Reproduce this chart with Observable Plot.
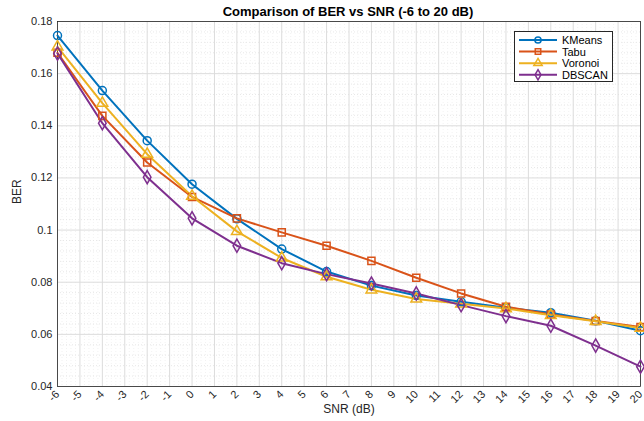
<!DOCTYPE html>
<html><head><meta charset="utf-8">
<script src="https://cdn.jsdelivr.net/npm/d3@7"></script>
<script src="https://cdn.jsdelivr.net/npm/@observablehq/plot@0.6"></script>
<style>
body{margin:0;background:#fff;font-family:"Liberation Sans",Arial,sans-serif;}
#wrap{position:relative;width:644px;height:421px;}
#title{position:absolute;left:0;width:644px;top:4px;padding-left:52px;box-sizing:border-box;text-align:center;font-weight:bold;font-size:13px;color:#000;}
#legend{position:absolute;left:514px;top:31px;width:99px;height:51px;border:1px solid #262626;background:#fff;box-sizing:border-box;z-index:3;}
</style></head>
<body><div id="wrap"><div id="title">Comparison of BER vs SNR (-6 to 20 dB)</div><div id="legend"></div></div>
<script>
const snr = [-6,-4,-2,0,2,4,6,8,10,12,14,16,18,20];
const seriesNames = ["KMeans","Tabu","Voronoi","DBSCAN"];
const kmeans  = [0.1746,0.1535,0.1343,0.1176,0.1043,0.0927,0.0841,0.0787,0.0749,0.0725,0.0702,0.0683,0.0652,0.0614];
const tabu    = [0.1680,0.1438,0.1259,0.1127,0.1045,0.0991,0.0940,0.0882,0.0817,0.0757,0.0706,0.0676,0.0651,0.0628];
const voronoi = [0.1703,0.1487,0.1291,0.1130,0.0995,0.0893,0.0821,0.0771,0.0736,0.0717,0.0699,0.0673,0.0650,0.0624];
const dbscan  = [0.1677,0.1410,0.1203,0.1045,0.0940,0.0873,0.0831,0.0795,0.0757,0.0712,0.0670,0.0633,0.0557,0.0476];
const xTicks = d3.range(-6,21,1);
const yTicks = [0.04,0.06,0.08,0.1,0.12,0.14,0.16,0.18];
const colors = ["#0072BD","#D95319","#EDB120","#7E2F8E"];
const symbols = ["circle","square","triangle","diamond"];

const all = [kmeans,tabu,voronoi,dbscan];
const data = [];
all.forEach((arr,i)=>arr.forEach((v,j)=>data.push({snr:snr[j],ber:v,s:seriesNames[i]})));
const yMinor = d3.range(0.04,0.1801,0.004).filter(v=>!yTicks.some(t=>Math.abs(t-v)<1e-6));
const xMinor = d3.range(-6,20.01,0.2).filter(v=>Math.abs(v-Math.round(v))>1e-6);

const chart = Plot.plot({
  width:644, height:421,
  marginLeft:57, marginRight:4, marginTop:21, marginBottom:35,
  style:{fontFamily:"'Liberation Sans', Arial, sans-serif", fontSize:"11px", color:"#262626", background:"transparent"},
  x:{domain:[-6,20], ticks:xTicks, tickRotate:-45, tickSize:0, tickPadding:6, label:null, tickFormat:d=>String(d)},
  y:{domain:[0.04,0.18], ticks:yTicks, tickSize:0, tickPadding:5, label:null, tickFormat:d=>String(+d.toFixed(2))},
  color:{domain:seriesNames, range:colors},
  symbol:{domain:seriesNames, range:symbols},
  marks:[
    Plot.ruleY(yMinor,{stroke:"#d8d8d8",strokeDasharray:"1,2",strokeWidth:0.6}),
    Plot.ruleX(xMinor,{stroke:"#e4e4e4",strokeDasharray:"1,2",strokeWidth:0.5}),
    Plot.ruleX(xTicks,{stroke:"#dcdcdc",strokeWidth:1}),
    Plot.ruleY(yTicks,{stroke:"#dcdcdc",strokeWidth:1}),
    Plot.frame({stroke:"#262626",strokeWidth:0.8}),
    Plot.line(data,{x:"snr",y:"ber",z:"s",stroke:"s",strokeWidth:2}),
    Plot.dot(data,{x:"snr",y:"ber",symbol:"s",stroke:"s",fill:"none",r:4,strokeWidth:1.5}),
    Plot.text(["SNR (dB)"],{frameAnchor:"bottom",dy:26,text:d=>d,fontSize:12,fill:"#262626"}),
    Plot.text(["BER"],{frameAnchor:"left",dx:-40,rotate:-90,text:d=>d,fontSize:12,fill:"#262626"})
  ]
});
document.getElementById("wrap").prepend(chart);
chart.style.position="absolute"; chart.style.left="0"; chart.style.top="0";
document.getElementById("title").style.zIndex=2;

// legend
const lg = d3.select("#legend").append("svg").attr("width",97).attr("height",49);
const symMap = {circle:d3.symbolCircle,square:d3.symbolSquare,triangle:d3.symbolTriangle,diamond:d3.symbolDiamond};
seriesNames.forEach((n,i)=>{
  const y = 8 + i*11.6;
  lg.append("line").attr("x1",4).attr("x2",42).attr("y1",y).attr("y2",y).attr("stroke",colors[i]).attr("stroke-width",2);
  lg.append("path").attr("d",d3.symbol(symMap[symbols[i]], 30)())
    .attr("transform",`translate(23,${y})`).attr("fill","none").attr("stroke",colors[i]).attr("stroke-width",1.5);
  lg.append("text").attr("x",47).attr("y",y+4).attr("font-size",11).attr("fill","#000").attr("font-family","'Liberation Sans', Arial, sans-serif").text(n);
});
</script></body></html>
